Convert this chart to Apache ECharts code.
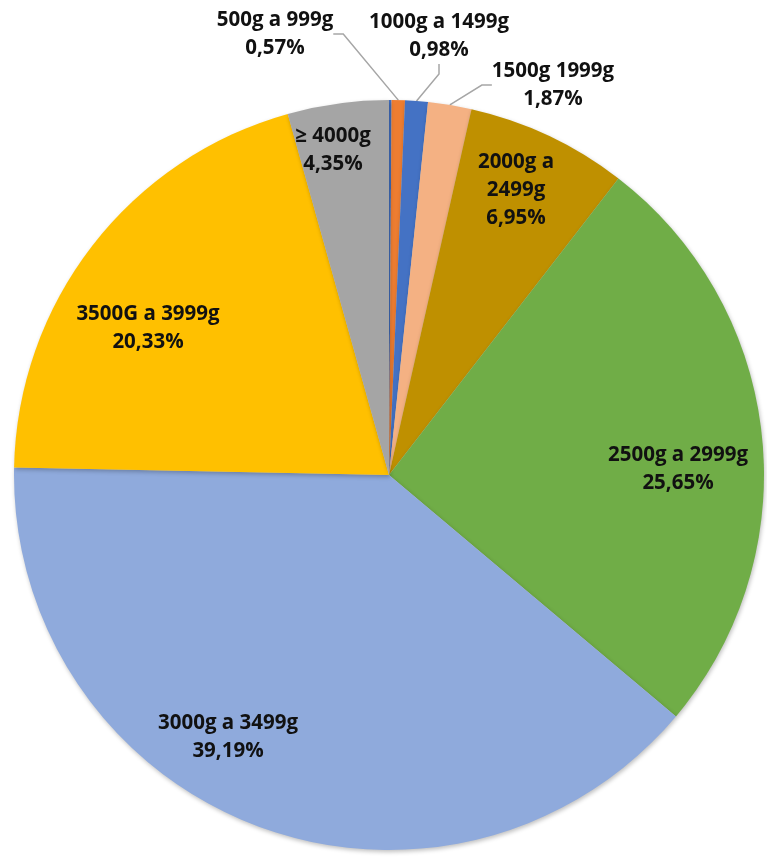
<!DOCTYPE html>
<html>
<head>
<meta charset="utf-8">
<script src="https://cdn.jsdelivr.net/npm/echarts@6/dist/echarts.min.js"></script>
<style>
html,body{margin:0;padding:0;background:#fff;}
#chart{width:767px;height:858px;}
</style>
</head>
<body>
<div id="chart"></div>
<script>
// Data
var categories = ['< 500g', '500g a 999g', '1000g a 1499g', '1500g 1999g', '2000g a 2499g', '2500g a 2999g', '3000g a 3499g', '3500G a 3999g', '≥ 4000g'];
var labelNames = ['', '500g a 999g', '1000g a 1499g', '1500g 1999g', '2000g a\n2499g', '2500g a 2999g', '3000g a 3499g', '3500G a 3999g', '≥ 4000g'];
var values = [0.11, 0.57, 0.98, 1.87, 6.95, 25.65, 39.19, 20.33, 4.35];
var colors = ['#4472C4', '#ED7D31', '#4472C4', '#F4B183', '#BF9000', '#70AD47', '#8FAADC', '#FFC000', '#A5A5A5'];

// label placement (style)
var labelPos = [null, [275, 34], [439, 36], [553, 85], [516, 190], [678, 469], [228, 737], [148, 328], [333, 150]];
var outside = [false, true, true, true, false, false, false, false, false];

var chart = echarts.init(document.getElementById('chart'));
var data = categories.map(function (c, i) {
  return {
    name: c,
    value: values[i],
    itemStyle: { color: colors[i] },
    label: { show: i !== 0, position: outside[i] ? 'outside' : 'inside' },
    labelLine: { show: outside[i] }
  };
});

chart.setOption({
  animation: false,
  series: [{
    type: 'pie',
    center: [389, 475],
    radius: [0, 375],
    startAngle: 90,
    clockwise: true,
    avoidLabelOverlap: false,
    data: data,
    itemStyle: {
      borderWidth: 0,
      shadowBlur: 4,
      shadowOffsetX: 1,
      shadowOffsetY: 2,
      shadowColor: 'rgba(0,0,0,0.25)'
    },
    label: {
      fontFamily: '"Open Sans", Lato, sans-serif',
      fontWeight: 'bold',
      fontSize: 20.5,
      lineHeight: 28,
      color: '#111',
      align: 'center',
      formatter: function (p) {
        return labelNames[p.dataIndex] + '\n' + p.value.toFixed(2).replace('.', ',') + '%';
      }
    },
    labelLine: {
      lineStyle: { color: '#A6A6A6', width: 1.5 },
      length: 10,
      length2: 10
    },
    labelLayout: function (params) {
      var pos = labelPos[params.dataIndex];
      if (!pos) return {};
      return { x: pos[0], y: pos[1], align: 'center', verticalAlign: 'middle' };
    }
  }]
});
</script>
</body>
</html>
